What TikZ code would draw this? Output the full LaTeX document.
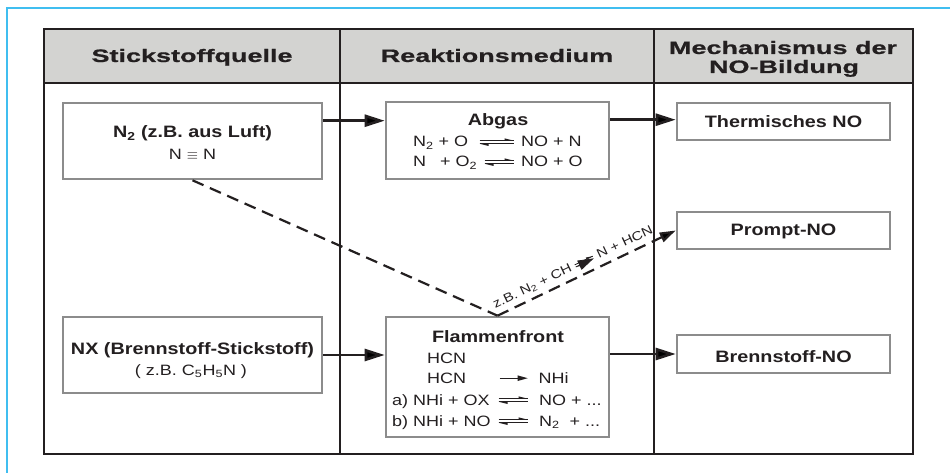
\documentclass[tikz,border=0pt]{standalone}
\usepackage{fontspec}
\setmainfont[FakeStretch=1.2]{Liberation Sans}
\newfontfamily\hdfont[FakeStretch=1.5,FakeBold=0.8]{Liberation Sans}
\usetikzlibrary{arrows.meta}
\definecolor{frameblue}{HTML}{40BEF0}
\definecolor{hdgray}{HTML}{D3D3D1}
\definecolor{boxgray}{HTML}{8C8C8C}
\definecolor{ink}{HTML}{231F20}
\newcommand\eqarr[1]{\tikz[baseline=0pt,x=1pt,y=1pt]{%
  \draw[ink,line width=1pt] (0,6.4)--(#1,6.4) (0,3.2)--(#1,3.2);
  \fill[ink] (#1,6.4)--(#1-9,8.6)--(#1-9,6.4)--cycle;
  \fill[ink] (0,3.2)--(9,1.0)--(9,3.2)--cycle;}}
\newcommand\onearr[1]{\tikz[baseline=0pt,x=1pt,y=1pt]{%
  \draw[ink,line width=1pt] (0,4.8)--(#1-6,4.8);
  \fill[ink] (#1,4.8)--(#1-10,7.6)--(#1-10,2.0)--cycle;}}
\newcommand\smeqarr{\tikz[baseline=0pt,x=1pt,y=1pt]{%
  \draw[ink,line width=0.8pt] (0,5.0)--(20,5.0) (0,2.6)--(20,2.6);
  \fill[ink] (20,5.0)--(13,6.8)--(13,5.0)--cycle;
  \fill[ink] (0,2.6)--(7,0.8)--(7,2.6)--cycle;}}
\tikzset{
  box/.style={draw=boxgray, line width=2.6pt, fill=white, inner sep=0pt},
  hd/.style={font=\hdfont\bfseries\fontsize{18}{20}\selectfont, text=ink, anchor=base, inner sep=0pt},
  bt/.style={font=\bfseries\fontsize{16.5}{19}\selectfont, text=ink, anchor=base, inner sep=0pt},
  rc/.style={font=\fontsize{15}{18}\selectfont, text=ink, anchor=base, inner sep=0pt},
  rt/.style={font=\fontsize{15}{18}\selectfont, text=ink, anchor=base west, inner sep=0pt},
  arr/.style={draw=ink, line width=2.6pt, -{Triangle[length=20pt,width=12pt]}},
  dsh/.style={draw=ink, line width=2.2pt, dash pattern=on 12pt off 7pt}
}
\begin{document}
\begin{tikzpicture}[x=1pt,y=-1pt]
\useasboundingbox (0,0) rectangle (950,473);
\fill[white] (0,0) rectangle (950,473);
\draw[frameblue,line width=1.5pt] (7,473) -- (7,8) -- (950,8);
% table
\fill[hdgray] (44,29) rectangle (913,83);
\draw[ink,line width=1.3pt] (44,29) rectangle (913,454);
\draw[ink,line width=1.8pt] (44,83) -- (913,83);
\draw[ink,line width=1.3pt] (340,29) -- (340,454) (654,29) -- (654,454);
% headers
\node[hd] (h1) at (192,62) {Stickstoffquelle};
\node[hd] (h2) at (497,62) {Reaktionsmedium};
\node[hd] (h3) at (783,54) {Mechanismus der};
\node[hd] (h4) at (784,73) {NO-Bildung};
% boxes
\node[box, minimum width=259pt, minimum height=76pt] (n2) at (192.5,141) {};
\node[box, minimum width=259pt, minimum height=76pt] (nx) at (192.5,355) {};
\node[box, minimum width=223pt, minimum height=77pt] (abgas) at (497.5,140.5) {};
\node[box, minimum width=223pt, minimum height=120pt] (flamm) at (497.5,377) {};
\node[box, minimum width=213pt, minimum height=37pt] (thermo) at (783.5,121.5) {};
\node[box, minimum width=213pt, minimum height=37pt] (prompt) at (783.5,230.5) {};
\node[box, minimum width=213pt, minimum height=38pt] (bren) at (783.5,354) {};
% box texts
\node[bt] (t1) at (192.5,138) {N\textsubscript{2} (z.B. aus Luft)};
\node[rc] (t2) at (192.5,160) {N \ensuremath{\equiv} N};
\node[bt] (t3) at (192.5,354) {NX (Brennstoff-Stickstoff)};
\node[rc] (t4) at (191,375) {( z.B. C\textsubscript{5}H\textsubscript{5}N )};
\node[bt] (t5) at (498,126) {Abgas};
\node[rt] (t6) at (413,147) {\makebox[66pt][l]{N\textsubscript{2} + O}\eqarr{34}\hspace{7pt}NO + N};
\node[rt] (t7) at (413,167) {\makebox[27pt][l]{N}\makebox[44pt][l]{+ O\textsubscript{2}}\eqarr{29}\hspace{7pt}NO + O};
\node[bt] (t8) at (498,342) {Flammenfront};
\node[rt] (t9) at (427,363) {HCN};
\node[rt] (t10) at (427,383) {\makebox[72pt][l]{HCN}\onearr{28}\hspace{11pt}NHi};
\node[rt] (t11) at (392,405) {\makebox[106pt][l]{a) NHi + OX}\eqarr{29}\hspace{11pt}NO + ...};
\node[rt] (t12) at (392,426) {\makebox[106pt][l]{b) NHi + NO}\eqarr{29}\hspace{11pt}N\textsubscript{2}\ \ + ...};
\node[bt] (t13) at (783.5,128) {Thermisches NO};
\node[bt] (t14) at (783.5,235) {Prompt-NO};
\node[bt] (t15) at (783.5,362) {Brennstoff-NO};
% connectors
\coordinate (a1) at ([yshift=-19pt]n2.north east);
\draw[arr] (a1) -- (a1 -| abgas.west);
\coordinate (a2) at ([yshift=-19pt]abgas.north east);
\draw[arr] (a2) -- (a2 -| thermo.west);
\draw[arr] (nx.east) -- (nx.east -| flamm.west);
\draw[arr] (bren.west -| flamm.east) -- (bren.west);
\draw[dsh] (n2.south) -- (flamm.north);
\draw[dsh, -{Triangle[length=16pt,width=10pt]}] (flamm.north) -- (prompt.west)
  node[pos=0.45, above=4pt, sloped, font=\fontsize{12.5}{14}\selectfont, text=ink, inner sep=1pt] (lbl)
  {z.B. N\textsubscript{2} + CH \smeqarr\ N + HCN};
\end{tikzpicture}
\end{document}
